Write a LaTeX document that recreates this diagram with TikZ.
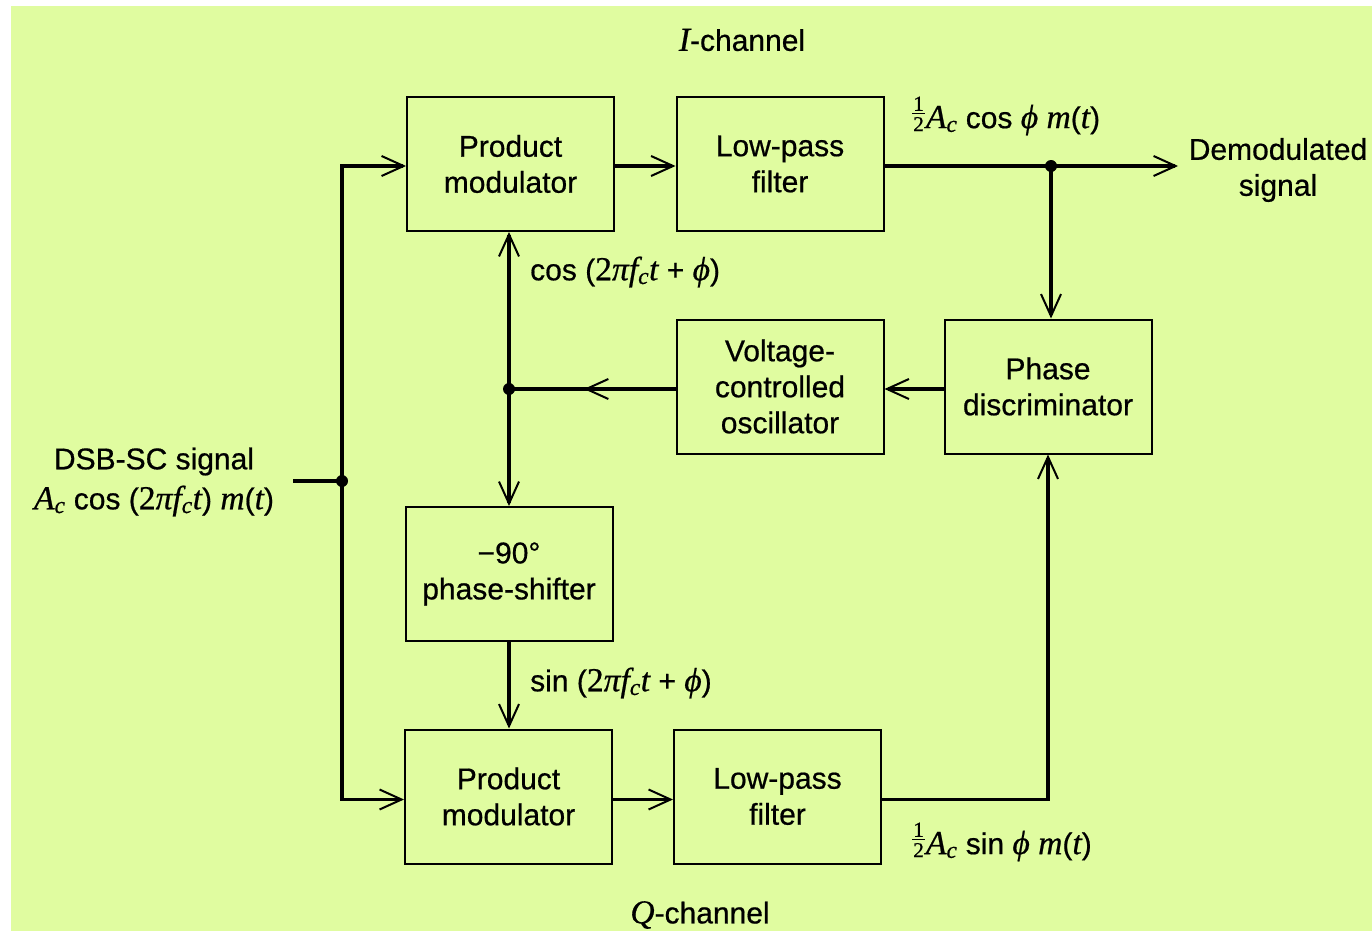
\documentclass[tikz,border=0pt]{standalone}
\usepackage{fontspec}
\setmainfont{Liberation Sans}[FakeBold=0.6]
\newfontfamily\serif{Liberation Serif}[FakeBold=0.6,Scale=1.12]
\usetikzlibrary{arrows.meta,decorations.markings}
\definecolor{paper}{RGB}{224,252,160}
\newcommand\blkfont{\fontsize{30}{36}\selectfont}
% italic serif symbols, subscripts and a small one-half
\newcommand\vi[1]{{\serif\itshape #1}}
\newcommand\sbc{\textsubscript{\serif\itshape c}}
\newcommand\half{\raisebox{-3pt}{\fontsize{19}{19}\selectfont\serif
  \vbox{\hbox to 0.6em{\hss 1\hss}\kern2pt\hrule height 1.3pt\kern3pt
        \hbox to 0.6em{\hss 2\hss}}}\kern1pt}

\begin{document}
\begin{tikzpicture}[x=1pt,y=-1pt,
  blk/.style={draw, line width=2pt, minimum width=207pt, minimum height=134pt,
              inner sep=0pt, align=center, font=\blkfont},
  lbl/.style={font=\blkfont, inner sep=0pt, align=center},
  wire/.style={line width=3.5pt},
  tip/.style={-{Straight Barb[length=22pt,width=20pt,line width=2pt]}},
  midtip/.style={postaction={decorate},
    decoration={markings, mark=at position #1 with
      {\arrow{Straight Barb[length=22pt,width=20pt,line width=2pt]}}}},
  dot/.style={circle, fill, inner sep=0pt, minimum size=12pt}]

% page and paper
\useasboundingbox (0,0) rectangle (1372,931);
\fill[white] (0,0) rectangle (1372,931);
\fill[paper] (11,6) rectangle (1372,931);

% blocks
\node[blk] (tpm)  at (510.5,164)   {Product\\modulator};
\node[blk] (tlpf) at (780,164)     {Low-pass\\filter};
\node[blk] (vco)  at (780,386.5)   {Voltage-\\controlled\\oscillator};
\node[blk] (pd)   at (1048,386.5)  {Phase\\discriminator};
\node[blk] (ps)   at (509,574)     {−90°\\phase-shifter};
\node[blk] (bpm)  at (508.5,796.5) {Product\\modulator};
\node[blk] (blpf) at (777.5,796.5) {Low-pass\\filter};

% junctions and free ends
\coordinate (in) at (293,481);
\node[dot] (J)  at (342,481) {};
\node[dot] (D1) at (1051,166) {};
\node[dot] (D2) at (509,389) {};
\coordinate (out) at (1178,166);

% connectors
\draw[wire] (in) -- (J.center);
\draw[wire,tip] (J.center) |- ([yshift=-2pt]tpm.west);
\draw[wire,tip] (J.center) |- ([yshift=-3pt]bpm.west);
\draw[wire,tip] ([yshift=-2pt]tpm.east) -- ([yshift=-2pt]tlpf.west);
\draw[wire,tip] ([yshift=-2pt]tlpf.east) -- (out);
\draw[wire,tip] (D1.center) -- (D1.center |- pd.north);
\draw[wire,tip] ([yshift=-2.5pt]pd.west) -- ([yshift=-2.5pt]vco.east);
\draw[wire,midtip=0.55] (vco.west |- D2) -- (D2.center);
\draw[wire,tip] (D2.center) -- (D2.center |- tpm.south);
\draw[wire,tip] (D2.center) -- (D2.center |- ps.north);
\draw[wire,tip] (ps.south) -- (ps.south |- bpm.north);
\draw[wire,tip] ([yshift=-3pt]bpm.east) -- ([yshift=-3pt]blpf.west);
\draw[wire,tip] ([yshift=-3pt]blpf.east) -| (pd.south);

% labels
\node[lbl] (ich) at (742,40) {\vi{I}-channel};
\node[lbl] (qch) at (700,915) {\vi{Q}-channel};
\node[lbl] (dem) at (1278,170) {Demodulated\\signal};
\node[lbl, align=center] (src) at (154,482)
  {DSB-SC signal\\[4pt]\vi{A}\sbc{} cos ({\serif 2}\vi{πf}\sbc\vi{t}) \vi{m}({\vi{t}})};
\node[lbl, anchor=west] (cosl) at (530,272)
  {cos ({\serif 2}\vi{πf}\sbc\vi{t} + \vi{ϕ})};
\node[lbl, anchor=west] (sinl) at (530,683)
  {sin ({\serif 2}\vi{πf}\sbc\vi{t} + \vi{ϕ})};
\node[lbl, anchor=west] (iout) at (912,116)
  {\half\vi{A}\sbc{} cos \vi{ϕ} \vi{m}(\vi{t})};
\node[lbl, anchor=west] (qout) at (912,842)
  {\half\vi{A}\sbc{} sin \vi{ϕ} \vi{m}(\vi{t})};
\end{tikzpicture}
\end{document}
